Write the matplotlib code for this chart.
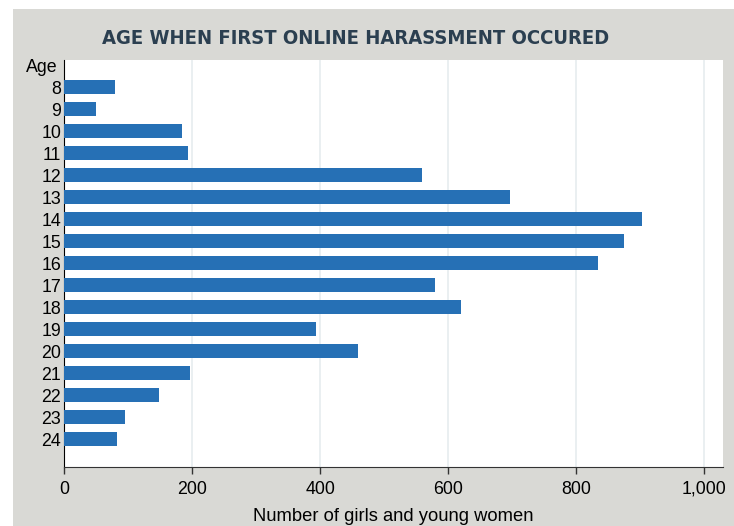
import matplotlib
matplotlib.use('AGG')
import matplotlib.pyplot as plt
from matplotlib.patches import Rectangle

ages = ['8', '9', '10', '11', '12', '13', '14', '15', '16', '17', '18', '19', '20', '21', '22', '23', '24']
counts = [79, 50, 184, 193, 559, 696, 902, 874, 834, 579, 620, 393, 459, 197, 148, 96, 82]
xticks = [0, 200, 400, 600, 800, 1000]
xlabels = ['0', '200', '400', '600', '800', '1,000']

plt.rcParams['font.family'] = ['Liberation Sans', 'DejaVu Sans']

fig = plt.figure(figsize=(7.34, 5.26), dpi=100)
fig.patch.set_facecolor('white')
# grey frame behind everything
fig.patches.append(Rectangle((13 / 734, 0), 1, 1 - 9 / 526, transform=fig.transFigure,
                             facecolor='#d9d9d5', edgecolor='none', zorder=-5))

ax = fig.add_axes([64 / 734, 1 - 467 / 526, (723 - 64) / 734, (467 - 60) / 526])
ax.set_zorder(2)
ax.set_facecolor('white')

pos = list(range(len(ages)))
ax.barh(pos, counts, height=0.63, color='#2670b5', zorder=3)

ax.set_xlim(0, 1029)
ax.set_ylim(len(ages) + 0.27, -1.23)
ax.set_yticks(pos)
ax.set_yticklabels(ages, fontsize=12.8)
ax.tick_params(axis='y', length=0, pad=2)
ax.set_xticks(xticks)
ax.set_xticklabels(xlabels, fontsize=12.8)
ax.tick_params(axis='x', length=5, width=1, color='#333333', pad=5)
ax.grid(axis='x', color='#e6ecef', linewidth=1.2, zorder=0)

for s in ['top', 'right']:
    ax.spines[s].set_visible(False)
ax.spines['left'].set_color('black')
ax.spines['bottom'].set_color('#333333')

ax.text(-0.01, -0.9, 'Age', transform=ax.get_yaxis_transform(), ha='right', va='center', fontsize=12.8)
ax.set_xlabel('Number of girls and young women', fontsize=13.2, labelpad=7)

fig.text(356 / 734, 1 - 38 / 526, 'AGE WHEN FIRST ONLINE HARASSMENT OCCURED', ha='center', va='center',
         fontsize=14.5, fontweight='bold', color='#2b3f50', fontstretch='condensed',
         family=['DejaVu Sans'])

fig.savefig('out.png', dpi=100, facecolor=fig.get_facecolor())
